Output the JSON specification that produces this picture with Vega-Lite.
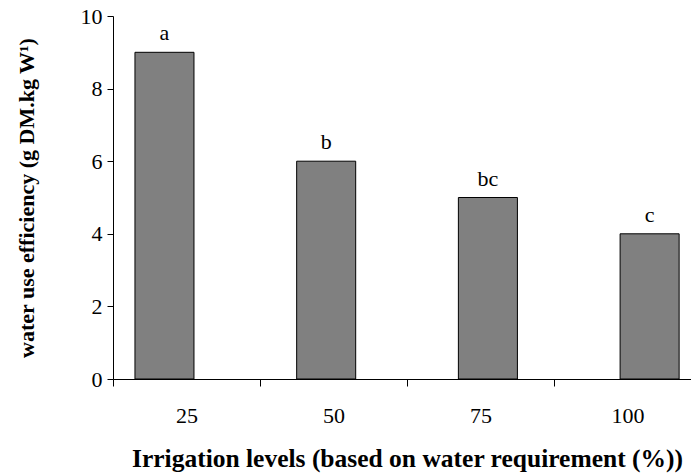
{
  "$schema": "https://vega.github.io/schema/vega-lite/v6.json",
  "autosize": {"type": "none"},
  "padding": {"left": 113, "top": 16, "right": 0, "bottom": 95},
  "width": 578,
  "height": 363,
  "background": "white",
  "config": {
    "view": {"stroke": null},
    "font": "Liberation Serif",
    "axis": {"labelFont": "Liberation Serif", "titleFont": "Liberation Serif", "labelColor": "black", "titleColor": "black", "domainColor": "black", "tickColor": "black", "grid": false}
  },
  "data": {
    "values": [
      {"level": "25", "wue": 9, "group": "a"},
      {"level": "50", "wue": 6, "group": "b"},
      {"level": "75", "wue": 5, "group": "bc"},
      {"level": "100", "wue": 4, "group": "c"}
    ]
  },
  "layer": [
    {
      "layer": [
        {
          "mark": {"type": "bar", "fill": "#808080", "stroke": "black", "strokeWidth": 1},
          "encoding": {
            "x": {"field": "level", "type": "ordinal", "sort": ["25", "50", "75", "100"],
              "scale": {"paddingInner": 0.635, "paddingOuter": 0.1046, "align": 0.649},
              "axis": {"labels": false, "ticks": false, "domain": true, "title": null}},
            "y": {"field": "wue", "type": "quantitative",
              "scale": {"domain": [0, 10], "nice": false},
              "axis": {"values": [0, 2, 4, 6, 8, 10], "tickSize": 6, "labelFont": "Liberation Serif", "labelFontSize": 22, "labelPadding": 5,
                "title": "water use efficiency (g DM.kg W¹)", "titleFont": "Liberation Serif", "titleFontSize": 22, "titleFontWeight": "bold", "titlePadding": 42}}
          }
        },
        {
          "mark": {"type": "text", "baseline": "alphabetic", "dy": -12, "fontSize": 22, "color": "black", "font": "Liberation Serif"},
          "encoding": {
            "x": {"field": "level", "type": "ordinal", "sort": ["25", "50", "75", "100"]},
            "y": {"field": "wue", "type": "quantitative"},
            "text": {"field": "group"}
          }
        }
      ]
    },
    {
      "mark": {"type": "text", "text": ""},
      "encoding": {
        "x": {"field": "level", "type": "ordinal", "sort": ["25", "50", "75", "100"],
          "scale": {"range": [0, 588], "paddingInner": 0, "paddingOuter": 0},
          "axis": {"orient": "bottom", "domain": false, "ticks": true, "tickBand": "extent", "tickSize": 7, "tickColor": "black", "tickWidth": 1,
            "labelFont": "Liberation Serif", "labelFontSize": 22, "labelPadding": 19, "labelAngle": 0,
            "title": "Irrigation levels (based on water requirement (%))", "titleFont": "Liberation Serif", "titleFontSize": 25.5, "titleFontWeight": "bold", "titlePadding": 20}},
        "y": {"field": "wue", "type": "quantitative"}
      }
    }
  ],
  "resolve": {"scale": {"x": "independent"}}
}
